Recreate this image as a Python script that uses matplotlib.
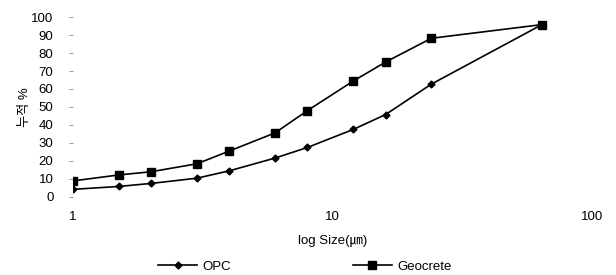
import matplotlib
matplotlib.use("Agg")
import matplotlib.pyplot as plt

# 입자 크기 (μm) 와 누적 %
sizes = [1, 1.5, 2, 3, 4, 6, 8, 12, 16, 24, 64]
opc = [4.2, 5.8, 7.5, 10.4, 14.5, 21.6, 27.5, 37.5, 45.8, 62.7, 95.8]
geocrete = [8.9, 12.2, 14.0, 18.4, 25.5, 35.6, 48.0, 64.4, 75.0, 88.2, 95.8]

plt.rcParams['font.family'] = ['Liberation Sans', 'Noto Sans CJK KR', 'DejaVu Sans']

fig = plt.figure(figsize=(6.16, 2.75), dpi=100)
ax = fig.add_axes([0.1185, 0.284, 0.843, 0.654])

ax.plot(sizes, opc, color='black', lw=1.2, marker='D', ms=3.5, label='OPC')
ax.plot(sizes, geocrete, color='black', lw=1.2, marker='s', ms=5.5, label='Geocrete')

ax.set_xscale('log')
ax.set_xlim(1, 100)
ax.set_ylim(0, 100)
ax.set_yticks(range(0, 101, 10))
ax.set_xticks([1, 10, 100])
ax.set_xticklabels(['1', '10', '100'])
ax.minorticks_off()
for s in ax.spines.values():
    s.set_visible(False)
ax.tick_params(axis='y', length=3, width=0.6, color='#888888', labelsize=9.5, pad=11)
ax.tick_params(axis='x', length=0, labelsize=9.5, pad=10)

ax.set_xlabel('log Size(㎛)', fontsize=9.5, labelpad=9)
ax.set_ylabel('누적 %', fontsize=9.5, labelpad=0)

fig.legend(loc='lower left', bbox_to_anchor=(0.238, -0.035), ncol=2, frameon=False,
           fontsize=9.5, columnspacing=9.3, handlelength=2.9, handletextpad=0.4)

fig.savefig('out.png', dpi=100)
